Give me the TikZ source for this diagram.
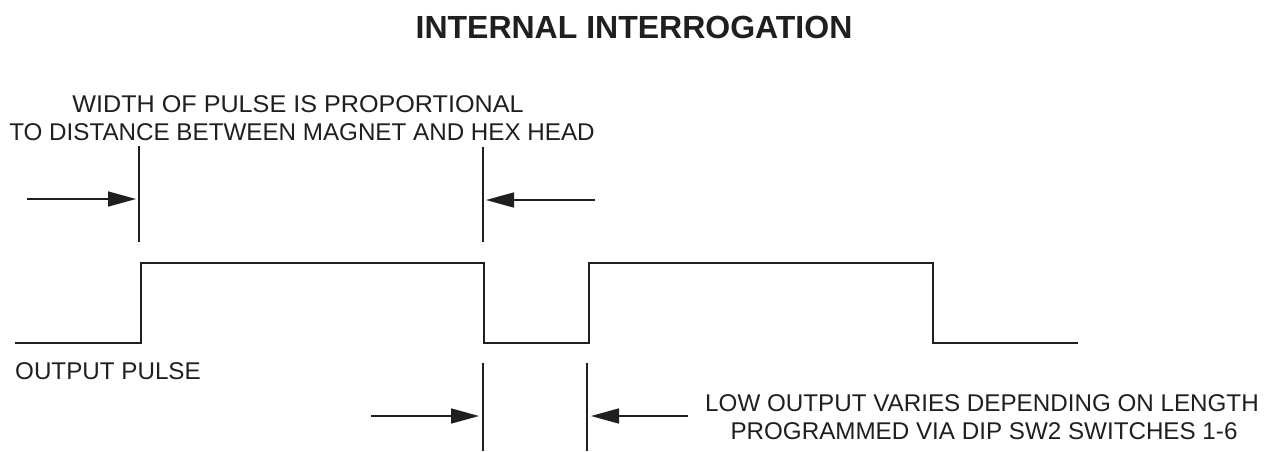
\documentclass[tikz,border=0pt]{standalone}
\usepackage{fontspec}
\setmainfont{Liberation Sans}
\newfontfamily\widefont[FakeStretch=1.04]{Liberation Sans}
\usetikzlibrary{arrows.meta}
\begin{document}
\begin{tikzpicture}[x=1pt,y=-1pt,
  wave/.style={line width=2.4pt, line join=miter, color=black!88},
  tick/.style={line width=1.6pt, color=black!88},
  dimarrow/.style={line width=1.6pt, color=black!88, -{Triangle[length=28pt,width=15pt]}},
  lbl/.style={font=\fontsize{24.2}{28}\selectfont, inner sep=0pt, text=black!88, align=center},
  wlbl/.style={font=\widefont\fontsize{24.2}{28}\selectfont, inner sep=0pt, text=black!88, align=center},
  ttl/.style={font=\fontsize{32}{36}\selectfont\bfseries, inner sep=0pt, text=black!88}]
\useasboundingbox (0,0) rectangle (1269,451);
% title
\node[ttl, anchor=base] (title) at (634,38) {INTERNAL INTERROGATION};
% top label
\node[wlbl, anchor=base] (toplbl1) at (298,112) {WIDTH OF PULSE IS PROPORTIONAL};
\node[lbl, anchor=base] (toplbl2) at (302,140) {TO DISTANCE BETWEEN MAGNET AND HEX HEAD};
% output pulse label
\node[lbl, anchor=base west] (outlbl) at (15,379) {OUTPUT PULSE};
% bottom right label
\node[lbl, anchor=base] (lowlbl1) at (982,411) {LOW OUTPUT VARIES DEPENDING ON LENGTH};
\node[lbl, anchor=base] (lowlbl2) at (984,439) {PROGRAMMED VIA DIP SW2 SWITCHES 1-6};
% waveform
\draw[wave] (15,343) -- (141,343) -- (141,263) -- (484,263) -- (484,343)
  -- (589,343) -- (589,263) -- (933,263) -- (933,343) -- (1078,343);
% top dimension ticks
\coordinate (t1a) at (139,146);
\coordinate (t1b) at (139,242);
\coordinate (t2a) at (483,147);
\coordinate (t2b) at (483,242);
\draw[tick] (t1a) -- (t1b);
\draw[tick] (t2a) -- (t2b);
\coordinate (a1s) at (27,199);
\coordinate (a1e) at (136,199);
\coordinate (a2s) at (595,200);
\coordinate (a2e) at (486,200);
\draw[dimarrow] (a1s) -- (a1e);
\draw[dimarrow] (a2s) -- (a2e);
% bottom dimension ticks
\coordinate (b1a) at (483,363);
\coordinate (b1b) at (483,451);
\coordinate (b2a) at (587,363);
\coordinate (b2b) at (587,451);
\draw[tick] (b1a) -- (b1b);
\draw[tick] (b2a) -- (b2b);
\coordinate (a3s) at (371,416);
\coordinate (a3e) at (479,416);
\coordinate (a4s) at (688,416);
\coordinate (a4e) at (591,416);
\draw[dimarrow] (a3s) -- (a3e);
\draw[dimarrow] (a4s) -- (a4e);
\end{tikzpicture}
\end{document}
